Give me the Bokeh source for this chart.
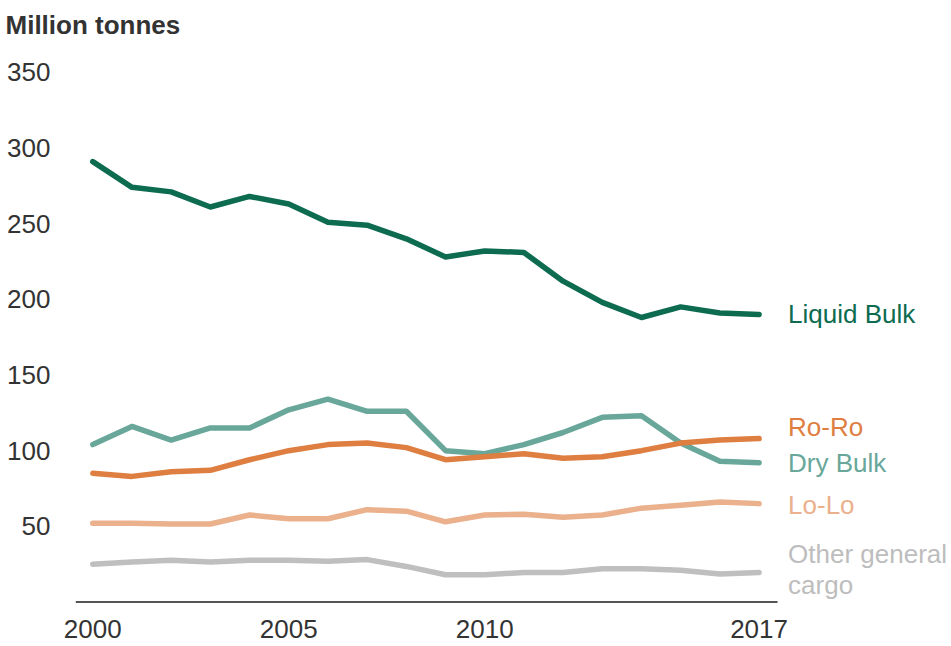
from bokeh.plotting import figure
from bokeh.models import Range1d, FixedTicker, ColumnDataSource
from bokeh.core.properties import value
from bokeh.embed import file_html
from bokeh.resources import INLINE

# ---- data (million tonnes) ----
years = list(range(2000, 2018))
liquid_bulk = [291, 274, 271, 261, 268, 263, 251, 249, 240, 228, 232, 231, 212, 198, 188, 195, 191, 190]
dry_bulk = [104, 116, 107, 115, 115, 127, 134, 126, 126, 100, 98, 104, 112, 122, 123, 105, 93, 92]
ro_ro = [85, 83, 86, 87, 94, 100, 104, 105, 102, 94, 96, 98, 95, 96, 100, 105, 107, 108]
lo_lo = [52, 52, 51.5, 51.5, 57.5, 55, 55, 61, 60, 53, 57.5, 58, 56, 57.5, 62, 64, 66, 65]
other_general = [25, 26.5, 27.5, 26.5, 27.5, 27.5, 27, 28, 23.5, 18, 18, 19.5, 19.5, 22, 22, 21, 18.5, 19.5]

series_names = ["Other general cargo", "Lo-Lo", "Dry Bulk", "Ro-Ro", "Liquid Bulk"]
series_values = [other_general, lo_lo, dry_bulk, ro_ro, liquid_bulk]
series_colors = ["#bfbfbf", "#ebb08c", "#68a79a", "#de7e40", "#0d6b50"]

x_ticks = [2000, 2005, 2010, 2017]
y_ticks = [50, 100, 150, 200, 250, 300, 350]

# ---- layout constants ----
X_START, X_END = 1999.559, 2021.91
AXIS_X0, AXIS_X1 = 1999.559, 2017.472
Y_START, Y_END = -1.0, 368.4
FONT = "Liberation Sans"
TXT = "#333333"

p = figure(width=951, height=646, output_backend="svg", toolbar_location=None,
           x_range=Range1d(X_START, X_END), y_range=Range1d(Y_START, Y_END),
           min_border_left=75, min_border_right=0, min_border_top=44, min_border_bottom=43,
           title="Million tonnes")
p.outline_line_color = None
p.grid.visible = False
p.background_fill_color = "white"
p.border_fill_color = "white"

p.title.align = "left"
p.title.vertical_align = "bottom"
p.title.offset = -70
p.title.standoff = 10
p.title.text_font = FONT
p.title.text_font_size = "26px"
p.title.text_font_style = "bold"
p.title.text_color = TXT

# y axis
p.yaxis.ticker = FixedTicker(ticks=y_ticks)
p.yaxis.axis_line_color = None
p.yaxis.major_tick_line_color = None
p.yaxis.minor_tick_line_color = None
p.yaxis.major_label_standoff = 19
p.yaxis.major_label_text_font = FONT
p.yaxis.major_label_text_font_size = "26px"
p.yaxis.major_label_text_color = TXT

# x axis (line drawn separately so it stops at 2017)
p.xaxis.ticker = FixedTicker(ticks=x_ticks)
p.xaxis.axis_line_color = None
p.xaxis.major_tick_line_color = None
p.xaxis.minor_tick_line_color = None
p.xaxis.major_label_standoff = 10
p.xaxis.major_label_text_font = FONT
p.xaxis.major_label_text_font_size = "26px"
p.xaxis.major_label_text_color = TXT

p.segment(x0=[AXIS_X0], y0=[0], x1=[AXIS_X1], y1=[0], line_color="#555555", line_width=2)

for name, vals, col in zip(series_names, series_values, series_colors):
    src = ColumnDataSource(dict(x=years, y=vals))
    p.line("x", "y", source=src, line_width=5.5, line_color=col,
           line_cap="round", line_join="round")

# series labels (text baseline positions in data units)
label_texts = ["Liquid Bulk", "Ro-Ro", "Dry Bulk", "Lo-Lo", "Other general", "cargo"]
label_y = [190.6, 115.6, 91.8, 63.9, 32.0, 10.9]
label_colors = ["#0d6b50", "#de7e40", "#68a79a", "#ebb08c", "#bdbdbd", "#bdbdbd"]
lab_src = ColumnDataSource(dict(x=[years[-1]] * len(label_texts), y=label_y,
                                text=label_texts, color=label_colors))
p.text("x", "y", text="text", source=lab_src, x_offset=29, text_color="color",
       text_font=value(FONT), text_font_size="26px",
       text_align="left", text_baseline="alphabetic")

open("out.html", "w").write(file_html(p, INLINE))
